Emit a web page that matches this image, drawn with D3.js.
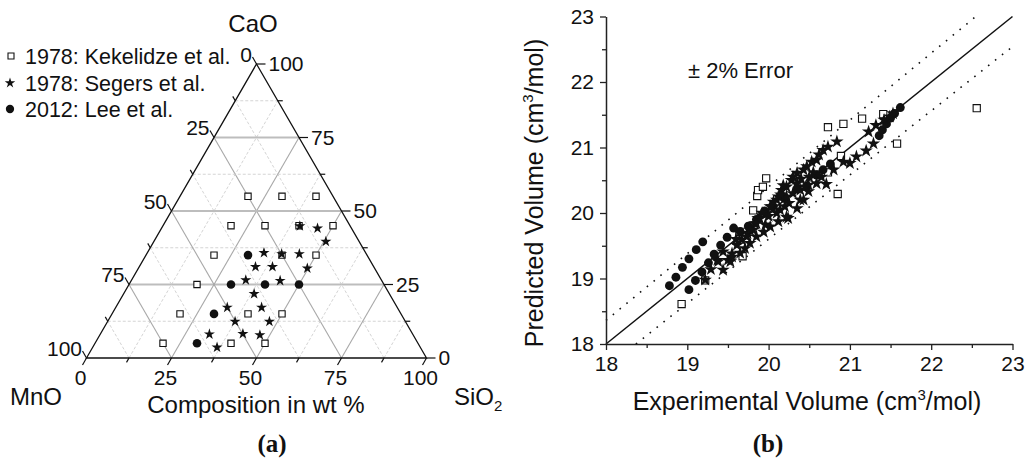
<!DOCTYPE html>
<html><head><meta charset="utf-8">
<script src="https://cdn.jsdelivr.net/npm/d3@7"></script>
<style>body{margin:0;background:#fff}svg{display:block}text{font-family:"Liberation Sans",Arial,sans-serif;fill:#111}</style>
</head><body>
<svg id="c" width="1027" height="462"></svg>
<script>
// ---------- DATA ----------
// Ternary (wt %): CaO and SiO2 given, MnO = 100 - CaO - SiO2
const kekCaO  = [5,5,5,15,15,15,25,35,35,35,45,45,45,45,55,55,55];
const kekSiO2 = [20,40,50,20,40,50,20,20,40,50,20,30,40,50,20,30,40];
const segCaO  = [3.6,8.1,8.2,7.8,12.4,12.4,17.2,17.2,21.8,26.5,26.3,31,31,30.5,35.8,35.4,35.4,39.6,44.9,44.1];
const segSiO2 = [36.6,32.1,41.9,47.1,37.5,47.6,32.8,42.9,38.4,33.6,43.8,34.2,39.2,49.7,34.3,39.7,44.9,50.6,40.3,45.9];
const leeCaO  = [5,15,25,25,25,35];
const leeSiO2 = [30,30,30,40,50,30];
const ternTicks = [0,25,50,75,100];
const ternMinor = [0,12.5,25,37.5,50,62.5,75,87.5,100];
const legendLabels = ["1978: Kekelidze et al.","1978: Segers et al.","2012: Lee et al."];

// Scatter: experimental vs predicted volume (cm3/mol)
const kekExp  = [18.93,19.22,19.68,19.64,19.81,19.86,19.87,19.93,19.97,20.73,20.85,20.89,20.73,20.92,21.15,21.41,21.58,22.56];
const kekPred = [18.61,18.97,19.34,19.71,20.04,20.26,20.35,20.40,20.53,20.62,20.29,20.87,21.31,21.36,21.44,21.51,21.06,21.60];
const leeExp  = [18.78,18.86,18.94,19.02,19.11,19.19,19.02,19.10,19.18,19.26,19.33,19.41,19.49,19.57,
                 19.65,19.75,19.85,19.95,20.05,20.20,20.35,20.47,20.59,20.67,20.76,
                 21.36,21.40,21.45,21.50,21.55,21.62];
const leePred = [18.89,19.02,19.17,19.30,19.44,19.56,18.83,18.97,19.10,19.24,19.37,19.51,19.63,19.77,
                 19.72,19.80,19.90,20.03,20.10,20.22,20.37,20.40,20.58,20.66,20.75,
                 21.18,21.27,21.36,21.45,21.52,21.61];
const segExp  = [19.22,19.29,19.44,19.37,19.50,19.44,19.55,19.65,19.53,19.61,19.67,19.74,19.81,19.83,19.87,19.96,19.98,
                 20.04,20.10,20.14,20.24,20.22,20.30,20.39,20.43,20.49,20.59,20.71,20.84,20.73,20.67,20.62,20.59,20.53,
                 20.47,20.43,20.35,20.28,20.22,20.16,20.12,20.06,20.02,19.89,19.85,19.77,19.73,19.38,
                 21.29,21.20,21.08,21.00,20.92,20.80,20.49,20.39,20.35,20.22,20.12,20.02,19.94,19.85,19.77,19.71,19.55,
                 21.23,21.32,21.42,21.49,21.53,
                 20.30,20.18,20.40,20.55,19.92,20.00,20.10,19.60,20.65,20.50,20.45,20.25,20.20,20.15,20.35];
const segPred = [18.98,19.14,19.13,19.28,19.28,19.41,19.38,19.39,19.26,19.51,19.59,19.69,19.74,19.84,19.92,19.82,19.99,
                 20.10,20.20,20.05,19.92,20.25,20.30,20.35,20.20,20.43,20.45,20.44,21.09,21.01,20.96,20.89,20.81,20.78,
                 20.71,20.66,20.61,20.50,20.40,20.35,20.25,20.17,20.10,19.92,19.84,19.74,19.64,19.26,
                 21.06,20.95,20.86,20.76,20.78,20.66,20.33,20.20,20.07,19.94,19.87,19.79,19.71,19.64,19.54,19.46,19.33,
                 21.24,21.34,21.42,21.47,21.52,
                 20.55,20.42,20.52,20.62,20.00,19.95,20.00,19.60,20.55,20.55,20.40,20.15,20.10,20.28,20.45];
const volTicks = [18,19,20,21,22,23];
const volMinor = [18.5,19.5,20.5,21.5,22.5];
const errPct = 2;

// ---------- SETUP ----------
const svg = d3.select("#c");
svg.append("rect").attr("width",1027).attr("height",462).attr("fill","#fff");
const sym = (t,s)=>d3.symbol().type(t).size(s)();

// ---------- TERNARY ----------
const tx = d3.scaleLinear().domain([0,100]).range([86.5,426.5]);
const ty = d3.scaleLinear().domain([0,100]).range([358,64]);
const tp = (ca,si)=>[tx(si)+(tx(ca)-tx(0))/2, ty(ca)];
const g1 = svg.append("g");
const line = d3.line();

// grid
ternMinor.slice(1,-1).forEach(v=>{
  const major = (v%25===0);
  const st = major ? {c:"#a8a8a8",w:1.1,d:null} : {c:"#cfcfcf",w:0.9,d:"3,2"};
  const segs = [
    [tp(v,0), tp(v,100-v)],          // const CaO (horizontal)
    [tp(0,v), tp(100-v,v)],          // const SiO2
    [tp(0,100-v), tp(100-v,0)]       // const MnO
  ];
  segs.forEach((s,i)=>{
    g1.append("path").attr("d",line(s)).attr("fill","none")
      .attr("stroke", (major&&i===0)?"#bdbdbd":st.c)
      .attr("stroke-width",(major&&i===0)?2:st.w)
      .attr("stroke-dasharray",st.d);
  });
});
// border
g1.append("path").attr("d",line([tp(0,0),tp(0,100),tp(100,0)])+"Z")
  .attr("fill","none").attr("stroke","#111").attr("stroke-width",1.3);

// ticks
ternMinor.forEach(v=>{
  const major = (v%25===0);
  let p = tp(0,v), L = major?8:5;
  g1.append("path").attr("d",line([p,[p[0]-0.5*L,p[1]+0.866*L]])).attr("stroke","#111").attr("stroke-width",1.2);
  p = tp(v,100-v); L = major?9:5;
  g1.append("path").attr("d",line([p,[p[0]+L,p[1]]])).attr("stroke","#111").attr("stroke-width",1.2);
  p = tp(100-v,0); L = major?8:5;
  g1.append("path").attr("d",line([p,[p[0]-0.5*L,p[1]-0.866*L]])).attr("stroke","#111").attr("stroke-width",1.2);
});
ternTicks.forEach(v=>{
  let p = tp(0,v);
  g1.append("text").attr("x",p[0]-6).attr("y",385).attr("text-anchor","middle").attr("font-size",21).text(v);
  p = tp(v,100-v);
  g1.append("text").attr("x",p[0]+12).attr("y",p[1]).attr("dy","0.35em").attr("font-size",21).text(v);
  p = tp(100-v,0);
  g1.append("text").attr("x",p[0]-4.5).attr("y",p[1]-2.5).attr("text-anchor","end").attr("font-size",21).text(v);
});

// titles
g1.append("text").attr("x",253).attr("y",32).attr("text-anchor","middle").attr("font-size",24).text("CaO");
g1.append("text").attr("x",10).attr("y",405).attr("font-size",24).text("MnO");
const si = g1.append("text").attr("x",454).attr("y",405).attr("font-size",24);
si.append("tspan").text("SiO");
si.append("tspan").attr("dy",6).attr("font-size",15).text("2");
g1.append("text").attr("x",256).attr("y",413).attr("text-anchor","middle").attr("font-size",24).text("Composition in wt %");
g1.append("text").attr("x",272).attr("y",452).attr("text-anchor","middle")
  .attr("font-size",25).attr("font-weight","bold").style("font-family","'Liberation Serif','Times New Roman',serif").text("(a)");

// points
const sqT = sym(d3.symbolSquare,40), stT = sym(d3.symbolStar,38), ciT = sym(d3.symbolCircle,58);
kekCaO.forEach((c,i)=>{const p=tp(c,kekSiO2[i]);
  g1.append("path").attr("d",sqT).attr("transform",`translate(${p})`).attr("fill","#fff").attr("stroke","#111").attr("stroke-width",1.1);});
segCaO.forEach((c,i)=>{const p=tp(c,segSiO2[i]);
  g1.append("path").attr("d",stT).attr("transform",`translate(${p})`).attr("fill","#111");});
leeCaO.forEach((c,i)=>{const p=tp(c,leeSiO2[i]);
  g1.append("path").attr("d",ciT).attr("transform",`translate(${p})`).attr("fill","#111");});

// legend
const legY = [56,83,109];
g1.append("path").attr("d",sym(d3.symbolSquare,36)).attr("transform",`translate(11,${legY[0]})`).attr("fill","#fff").attr("stroke","#111").attr("stroke-width",1.1);
g1.append("path").attr("d",sym(d3.symbolStar,34)).attr("transform",`translate(10,${legY[1]})`).attr("fill","#111");
g1.append("path").attr("d",sym(d3.symbolCircle,54)).attr("transform",`translate(10,${legY[2]})`).attr("fill","#111");
legendLabels.forEach((t,i)=>g1.append("text").attr("x",25).attr("y",legY[i]+7.5).attr("font-size",21.5).text(t));

// ---------- SCATTER ----------
const x = d3.scaleLinear().domain([18,23]).range([606,1012.5]);
const y = d3.scaleLinear().domain([18,23]).range([344,16.5]);
const g2 = svg.append("g");

// reference lines
g2.append("path").attr("d",line([[x(18),y(18)],[x(23),y(23)]])).attr("stroke","#111").attr("stroke-width",1.5);
const up = 1+errPct/100, lo = 1-errPct/100;
g2.append("path").attr("d",line([[x(18),y(18*up)],[x(23/up),y(23)]]))
  .attr("stroke","#111").attr("stroke-width",1.6).attr("stroke-dasharray","1.6,7.2");
g2.append("path").attr("d",line([[x(18/lo),y(18)],[x(23),y(23*lo)]]))
  .attr("stroke","#111").attr("stroke-width",1.6).attr("stroke-dasharray","1.6,7.2");

// axes
const fmt = d3.format("d");
const axX = g2.append("g").attr("transform",`translate(0,${y(18)})`)
  .call(d3.axisBottom(x).tickValues(volTicks).tickFormat(fmt).tickSize(6).tickSizeOuter(0).tickPadding(6));
const axXm = g2.append("g").attr("transform",`translate(0,${y(18)})`)
  .call(d3.axisBottom(x).tickValues(volMinor).tickSize(4).tickFormat(""));
const axY = g2.append("g").attr("transform",`translate(${x(18)},0)`)
  .call(d3.axisLeft(y).tickValues(volTicks).tickFormat(fmt).tickSize(6).tickSizeOuter(0).tickPadding(6));
const axYm = g2.append("g").attr("transform",`translate(${x(18)},0)`)
  .call(d3.axisLeft(y).tickValues(volMinor).tickSize(4).tickFormat(""));
[axX,axXm,axY,axYm].forEach(a=>{
  a.selectAll("path.domain").attr("stroke","#222").attr("stroke-width",1.5);
  a.selectAll("line").attr("stroke","#222").attr("stroke-width",1.3);
  a.selectAll("text").attr("font-size",21).attr("fill","#111").style("font-family","'Liberation Sans',Arial,sans-serif");
});
axXm.select("path.domain").remove(); axYm.select("path.domain").remove();

// titles
const xt = g2.append("text").attr("x",807).attr("y",410).attr("text-anchor","middle").attr("font-size",25);
xt.append("tspan").text("Experimental Volume (cm");
xt.append("tspan").attr("dy",-10).attr("font-size",15).text("3");
xt.append("tspan").attr("dy",10).text("/mol)");
const yt = g2.append("text").attr("transform","translate(543,193) rotate(-90)").attr("text-anchor","middle").attr("font-size",25);
yt.append("tspan").text("Predicted Volume (cm");
yt.append("tspan").attr("dy",-10).attr("font-size",15).text("3");
yt.append("tspan").attr("dy",10).text("/mol)");
g2.append("text").attr("x",688).attr("y",78).attr("font-size",22).text("\u00B1 2% Error");
g2.append("text").attr("x",768).attr("y",452).attr("text-anchor","middle")
  .attr("font-size",25).attr("font-weight","bold").style("font-family","'Liberation Serif','Times New Roman',serif").text("(b)");

// points
const sqS = sym(d3.symbolSquare,52), stS = sym(d3.symbolStar,56), ciS = sym(d3.symbolCircle,62);
kekExp.forEach((v,i)=>g2.append("path").attr("d",sqS).attr("transform",`translate(${x(v)},${y(kekPred[i])})`)
  .attr("fill","#fff").attr("stroke","#111").attr("stroke-width",1.1));
leeExp.forEach((v,i)=>g2.append("path").attr("d",ciS).attr("transform",`translate(${x(v)},${y(leePred[i])})`).attr("fill","#111"));
segExp.forEach((v,i)=>g2.append("path").attr("d",stS).attr("transform",`translate(${x(v)},${y(segPred[i])})`).attr("fill","#111"));
</script>
</body></html>
